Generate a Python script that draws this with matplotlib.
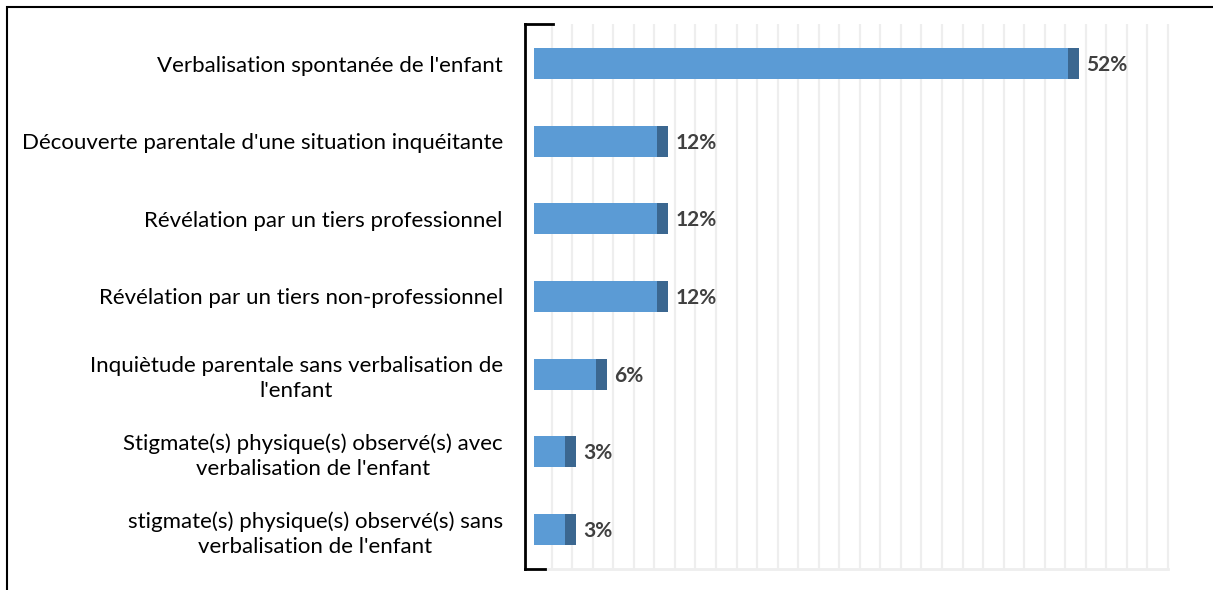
import numpy as np
import matplotlib.pyplot as plt
from matplotlib.patches import Rectangle

# categories and values (percent)
categories = [
    "Verbalisation spontanée de l'enfant",
    "Découverte parentale d'une situation inquéitante",
    "Révélation par un tiers professionnel",
    "Révélation par un tiers non-professionnel",
    "Inquiètude parentale sans verbalisation de\nl'enfant",
    "Stigmate(s) physique(s) observé(s) avec\nverbalisation de l'enfant",
    "stigmate(s) physique(s) observé(s) sans\nverbalisation de l'enfant",
]
values = [52, 12, 12, 12, 6, 3, 3]
labels = ["52%", "12%", "12%", "12%", "6%", "3%", "3%"]

light = "#5B9BD5"
dark = "#3B6790"
W, H = 1213, 590

fig = plt.figure(figsize=(W / 100, H / 100), dpi=100)
# frame around the whole chart
fig.patches.append(Rectangle((7 / W, -0.01), 1.1, (H - 7) / H + 0.01,
                             transform=fig.transFigure, fill=False,
                             edgecolor="black", linewidth=1.5))

# axes from bracket (x=525) to right end of grid, y 24..569
left, right, top, bottom = 525, 1175, 24, 569
ax = fig.add_axes([left / W, 1 - bottom / H, (right - left) / W, (bottom - top) / H])
ppu = 10.27  # pixels per percent
x0 = -(534 - left) / ppu
ax.set_xlim(x0, x0 + (right - left) / ppu)
ax.set_ylim(len(categories) - 0.5 + 0.01, -0.5 - 0.01)

# back-wall gridlines
off = (551.7 - 534) / ppu
for g in np.arange(0, 61, 2) + off:
    ax.axvline(g, ymin=0, ymax=1, color="#EEEEEE", linewidth=1.6, zorder=0)
ax.plot([(545 - 534) / ppu, off + 60], [len(categories) - 0.5 + 0.01] * 2,
        color="#EEEEEE", linewidth=2, clip_on=False, zorder=0)

y = np.arange(len(categories))
cap = 1.07
ax.barh(y, values, height=0.4, color=light, zorder=2)
ax.barh(y, [cap] * len(values), left=values, height=0.4, color=dark, zorder=2)
for yi, v, lab in zip(y, values, labels):
    ax.text(v + cap + 0.7, yi + 0.02, lab, va="center", ha="left", fontsize=15,
            fontweight="bold", color="#404040", family="Lato")

ax.set_yticks(y)
ax.set_yticklabels(categories, fontsize=16, family="Lato", color="black",
                   multialignment="center", linespacing=1.32)
ax.tick_params(axis="y", length=0, pad=16)
ax.set_xticks([])
for s in ["top", "right", "bottom", "left"]:
    ax.spines[s].set_visible(False)

# bracket-style axis at left
ax.plot([x0, x0], [-0.5 - 0.01, len(categories) - 0.5 + 0.01], color="black",
        linewidth=2, clip_on=False, zorder=3)
ax.plot([x0, x0 + 28 / ppu], [-0.51, -0.51], color="black", linewidth=2,
        clip_on=False, zorder=3)
ax.plot([x0, x0 + 20 / ppu], [len(categories) - 0.49] * 2, color="black",
        linewidth=2, clip_on=False, zorder=3)

fig.savefig("out.png", dpi=100)
